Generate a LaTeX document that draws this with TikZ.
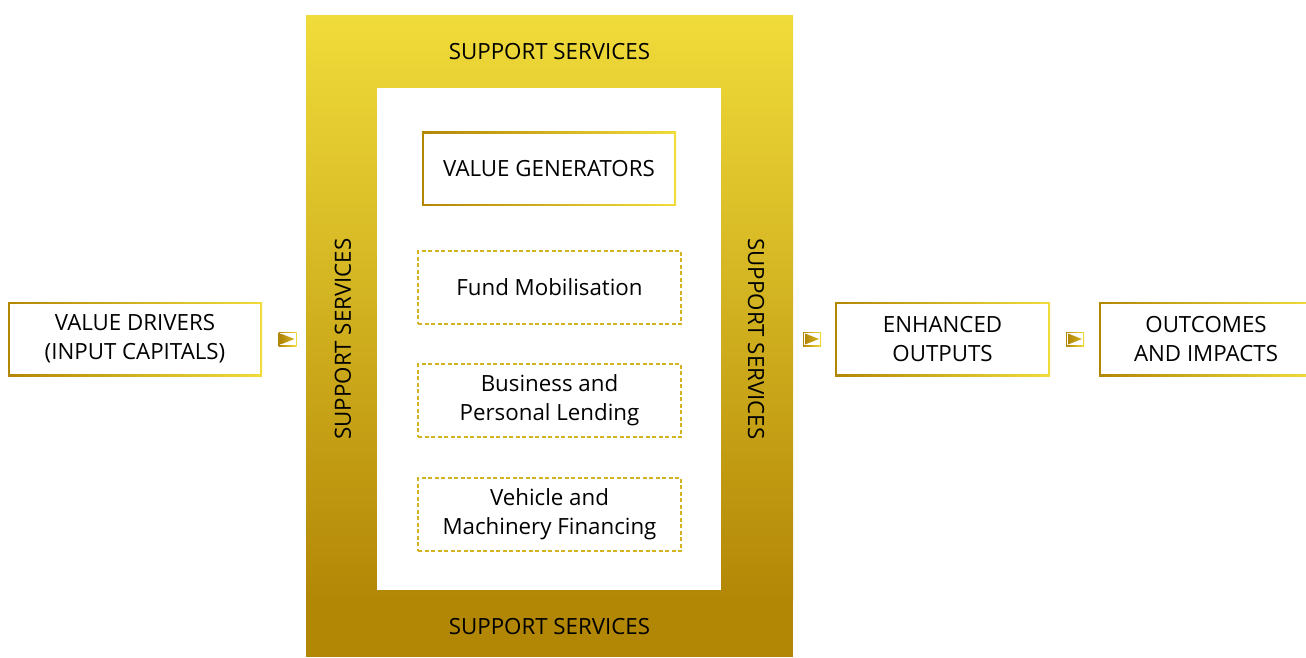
\documentclass[tikz,border=0pt]{standalone}
\usepackage{fontspec}
\setmainfont{Open Sans}
\definecolor{golddark}{HTML}{B38706}
\definecolor{goldlight}{HTML}{F0DC3A}
\definecolor{goldmid}{HTML}{D4B322}
\begin{document}
\begin{tikzpicture}[
        x=1pt, y=-1pt,
        box/.style={rectangle, left color=golddark, right color=goldlight, minimum height=74pt, align=center, font=\fontsize{22.3}{29}\selectfont,
            path picture={\fill[white] ([shift={(2pt,2pt)}]path picture bounding box.south west) rectangle ([shift={(-2pt,-2pt)}]path picture bounding box.north east);}},
        activity/.style={rectangle, draw=goldmid, line width=1.2pt, dash pattern=on 4pt off 2.5pt, minimum width=263pt, minimum height=73pt, align=center, font=\fontsize{22.3}{29}\selectfont},
        support/.style={font=\fontsize{22.3}{26}\selectfont},
        marker/.style={rectangle, inner sep=0pt, minimum width=18pt, minimum height=14pt, left color=golddark, right color=goldlight,
            path picture={
                \fill[white] ([shift={(1pt,1pt)}]path picture bounding box.south west) rectangle ([shift={(-1pt,-1pt)}]path picture bounding box.north east);
                \shade[left color=golddark, right color=goldmid] ([shift={(2pt,-1.5pt)}]path picture bounding box.north west) -- ([shift={(-2pt,0pt)}]path picture bounding box.east) -- ([shift={(2pt,1.5pt)}]path picture bounding box.south west) -- cycle;}}
    ]
    \useasboundingbox (0,0) rectangle (1306,657);

    % Support services frame
    \shade[top color=goldlight, bottom color=golddark] (306,15) rectangle (793,600);
    \fill[golddark] (306,599) rectangle (793,657);
    \fill[white] (377,88) rectangle (721,590);
    \node[support] (ss_top) at (549.5,52) {SUPPORT SERVICES};
    \node[support] (ss_bottom) at (549.5,627) {SUPPORT SERVICES};
    \node[support, rotate=90] (ss_left) at (343,339) {SUPPORT SERVICES};
    \node[support, rotate=-90] (ss_right) at (756,339) {SUPPORT SERVICES};

    % Value generators and activities
    \node[box, minimum width=254pt] (generators) at (549,168.5) {VALUE GENERATORS};
    \node[activity] (fund) at (549.5,287.5) {Fund Mobilisation};
    \node[activity] (lending) at (549.5,400.5) {Business and\\Personal Lending};
    \node[activity] (vehicle) at (549.5,514.5) {Vehicle and\\Machinery Financing};

    % Inputs and outputs
    \node[box, minimum width=254pt] (drivers) at (135,339) {VALUE DRIVERS\\(INPUT CAPITALS)};
    \node[box, minimum width=215pt] (outputs) at (942.5,339) {ENHANCED\\OUTPUTS};
    \node[box, minimum width=214pt] (outcomes) at (1206,339) {OUTCOMES\\AND IMPACTS};

    % Flow markers
    \node[marker] (m1) at (287.5,339) {};
    \node[marker] (m2) at (812,339) {};
    \node[marker] (m3) at (1075,339) {};

\end{tikzpicture}
\end{document}
